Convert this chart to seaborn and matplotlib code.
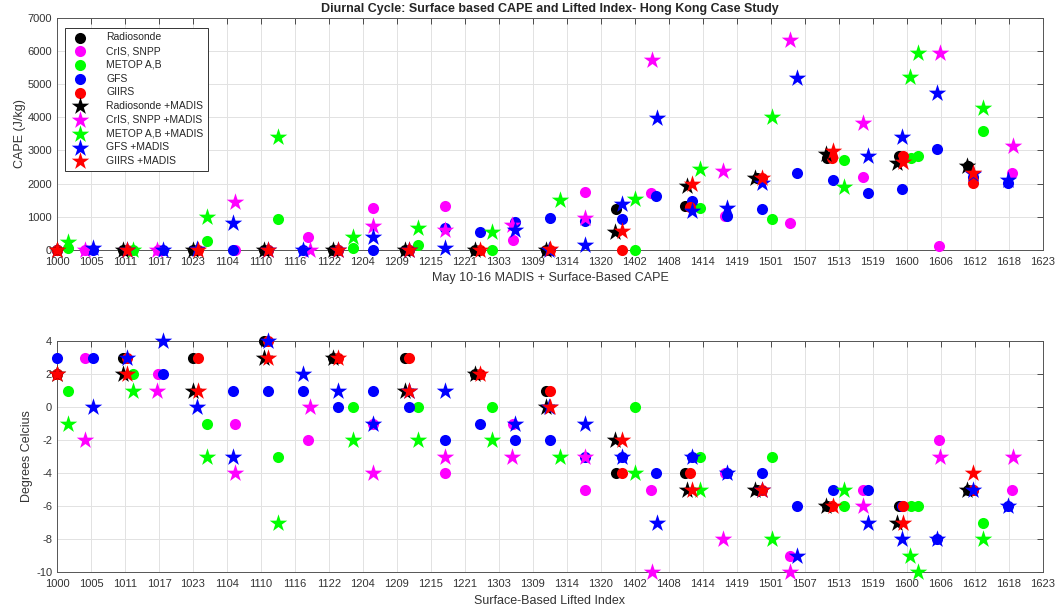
import pandas as pd
import seaborn as sns
import matplotlib.pyplot as plt

sns.set_style('white')
plt.rcParams['font.family'] = ['Liberation Sans', 'DejaVu Sans']
plt.rcParams['axes.unicode_minus'] = False

tick_labels = ['1000', '1005', '1011', '1017', '1023', '1104', '1110', '1116', '1122', '1204',
               '1209', '1215', '1221', '1303', '1309', '1314', '1320', '1402', '1408', '1414',
               '1419', '1501', '1507', '1513', '1519', '1600', '1606', '1612', '1618', '1623']

# x = position on the time axis in tick steps (0 = 1000 ... 29 = 1623)
raob_x = [0.00, 1.94, 4.00, 6.09, 8.12, 10.24, 12.29, 14.38, 16.44, 18.47, 20.59, 22.65, 24.76, 26.79]
raob_cape = [0, 0, 0, 0, 0, 0, 0, 0, 1240, 1310, 2180, 2760, 2840, 2540]
raob_li = [2, 3, 3, 4, 3, 3, 2, 1, -4, -4, -5, -6, -6, -5]

raob_m_x = [0.00, 1.94, 4.00, 6.09, 8.12, 10.24, 12.29, 14.38, 16.41, 18.53, 20.53, 22.62, 24.71, 26.76]
raob_m_cape = [0, 0, 0, 0, 0, 0, 0, 0, 530, 1930, 2180, 2890, 2620, 2540]
raob_m_li = [2, 2, 1, 3, 3, 1, 2, 0, -2, -5, -5, -6, -7, -5]

cris_x = [0.82, 2.97, 5.24, 7.38, 9.29, 11.41, 13.41, 15.53, 17.47, 19.65, 21.56, 23.71, 25.94, 28.09]
cris_cape = [0, 0, 0, 390, 1270, 1310, 300, 1740, 1720, 1010, 810, 2200, 130, 2310]
cris_li = [3, 2, -1, -2, -1, -4, -1, -5, -5, -4, -9, -5, -2, -5]

cris_m_x = [0.82, 2.94, 5.24, 7.44, 9.29, 11.41, 13.38, 15.53, 17.50, 19.59, 21.56, 23.71, 25.97, 28.12]
cris_m_cape = [0, 0, 1430, 0, 730, 600, 750, 950, 5720, 2380, 6340, 3830, 5930, 3140]
cris_m_li = [-2, 1, -4, 0, -4, -3, -3, -3, -10, -8, -10, -6, -3, -3]

metop_x = [0.32, 2.24, 4.41, 6.50, 8.71, 10.62, 12.79, 17.00, 18.91, 21.03, 23.15, 25.12, 25.32, 27.24]
metop_cape = [50, 0, 280, 920, 60, 150, 0, 0, 1250, 930, 2710, 2760, 2840, 3580]
metop_li = [1, 2, -1, -3, 0, 0, 0, 0, -3, -3, -6, -6, -6, -7]

metop_m_x = [0.32, 2.24, 4.41, 6.50, 8.71, 10.62, 12.79, 14.79, 17.00, 18.91, 21.03, 23.15, 25.09, 25.32, 27.24]
metop_m_cape = [250, 0, 1000, 3400, 400, 650, 530, 1510, 1520, 2430, 4010, 1900, 5220, 5930, 4280]
metop_m_li = [-1, 1, -3, -7, -2, -2, -2, -3, -4, -5, -8, -5, -9, -10, -8]

gfs_x = [0.00, 1.06, 3.12, 5.18, 6.21, 7.24, 8.26, 9.29, 10.35, 11.41, 12.44, 13.47, 14.50, 15.53,
         16.62, 17.62, 18.68, 19.71, 20.74, 21.76, 22.82, 23.85, 24.85, 25.88, 26.94, 27.97]
gfs_cape = [0, 0, 0, 0, 0, 0, 0, 0, 0, 650, 550, 840, 970, 870,
            930, 1620, 1470, 1010, 1220, 2310, 2100, 1730, 1830, 3040, 2200, 2010]
gfs_li = [3, 3, 2, 1, 1, 1, 0, 1, 0, -2, -1, -2, -2, -3,
          -3, -4, -3, -4, -4, -6, -5, -5, -6, -8, -5, -6]

gfs_m_x = [1.06, 2.06, 3.12, 4.12, 5.18, 6.21, 7.24, 8.26, 9.29, 10.35, 11.41, 13.47, 14.47,
           15.53, 16.62, 17.65, 18.68, 19.71, 20.74, 21.76, 23.85, 24.85, 25.88, 26.94, 27.97]
gfs_m_cape = [50, 0, 0, 15, 820, 0, 0, 0, 380, 0, 50, 600, 0,
              150, 1390, 3980, 1170, 1270, 2030, 5190, 2820, 3400, 4720, 2280, 2100]
gfs_m_li = [0, 3, 4, 0, -3, 4, 2, 1, -1, 1, 1, -1, 0,
            -1, -3, -7, -3, -4, -5, -9, -7, -8, -8, -5, -6]

giirs_x = [0.00, 2.06, 4.15, 6.21, 8.26, 10.35, 12.44, 14.50, 16.62, 18.62, 20.74, 22.79, 24.88, 26.94]
giirs_cape = [0, 0, 0, 0, 0, 0, 0, 0, 0, 1300, 2180, 2760, 2840, 2010]
giirs_li = [2, 3, 3, 4, 3, 3, 2, 1, -4, -4, -5, -6, -6, -5]

giirs_m_x = [0.00, 2.06, 4.15, 6.21, 8.26, 10.35, 12.44, 14.50, 16.62, 18.68, 20.74, 22.82, 24.88, 26.94]
giirs_m_cape = [0, 0, 0, 0, 0, 0, 0, 20, 560, 1980, 2180, 2990, 2640, 2330]
giirs_m_li = [2, 2, 1, 3, 3, 1, 2, 0, -2, -5, -5, -6, -7, -4]

series = [
    ('Radiosonde', raob_x, raob_cape, raob_li, 'k', 'o'),
    ('CrIS, SNPP', cris_x, cris_cape, cris_li, '#ff00ff', 'o'),
    ('METOP A,B', metop_x, metop_cape, metop_li, '#00ff00', 'o'),
    ('GFS', gfs_x, gfs_cape, gfs_li, '#0000ff', 'o'),
    ('GIIRS', giirs_x, giirs_cape, giirs_li, '#ff0000', 'o'),
    ('Radiosonde +MADIS', raob_m_x, raob_m_cape, raob_m_li, 'k', '*'),
    ('CrIS, SNPP +MADIS', cris_m_x, cris_m_cape, cris_m_li, '#ff00ff', '*'),
    ('METOP A,B +MADIS', metop_m_x, metop_m_cape, metop_m_li, '#00ff00', '*'),
    ('GFS +MADIS', gfs_m_x, gfs_m_cape, gfs_m_li, '#0000ff', '*'),
    ('GIIRS +MADIS', giirs_m_x, giirs_m_cape, giirs_m_li, '#ff0000', '*'),
]

fig = plt.figure(figsize=(10.6, 6.11), dpi=100)
ax1 = fig.add_axes([0.0538, 0.591, 0.930, 0.380])
ax2 = fig.add_axes([0.0538, 0.0638, 0.930, 0.378])

for name, x, cape, li, color, marker in series:
    df = pd.DataFrame({'x': x, 'cape': cape, 'li': li})
    size = 64 if marker == 'o' else 175
    sns.scatterplot(data=df, x='x', y='cape', ax=ax1, color=color, marker=marker, s=size,
                    linewidth=0, label=name, clip_on=False, zorder=3)
    sns.scatterplot(data=df, x='x', y='li', ax=ax2, color=color, marker=marker, s=size,
                    linewidth=0, clip_on=False, zorder=3, legend=False)

grey = '#333333'
for ax in (ax1, ax2):
    ax.set_xlim(0, 29)
    ax.set_xticks(range(len(tick_labels)))
    ax.set_xticklabels(tick_labels)
    ax.grid(True, color='#e2e2e2', linewidth=0.7)
    ax.set_axisbelow(True)
    ax.tick_params(direction='in', top=True, right=True, length=4, width=0.6, color=grey,
                   labelsize=8, labelcolor=grey)
    ax.tick_params(axis='x', pad=5)
    for sp in ax.spines.values():
        sp.set_color('#555555')
        sp.set_linewidth(0.7)

ax1.set_ylim(0, 7000)
ax1.set_yticks(range(0, 7001, 1000))
ax2.set_ylim(-10, 4)
ax2.set_yticks(range(-10, 5, 2))

ax1.set_ylabel('CAPE (J/kg)', fontsize=9, color=grey, labelpad=1)
ax1.set_xlabel('May 10-16 MADIS + Surface-Based CAPE', fontsize=9, color=grey, labelpad=4)
ax2.set_ylabel('Degrees Celcius', fontsize=9, color=grey, labelpad=2)
ax2.set_xlabel('Surface-Based Lifted Index', fontsize=9, color=grey, labelpad=4)
ax1.set_title('Diurnal Cycle: Surface based CAPE and Lifted Index- Hong Kong Case Study',
              fontsize=9, fontweight='bold', pad=4)

leg = ax1.legend(loc='upper left', bbox_to_anchor=(0.008, 0.957), borderaxespad=0,
                 fontsize=7.5, frameon=True, fancybox=False, edgecolor='#333333',
                 framealpha=1, labelspacing=0.36, handletextpad=1.5, borderpad=0.45)
leg.get_frame().set_linewidth(0.7)

fig.savefig('out.png', dpi=100)
